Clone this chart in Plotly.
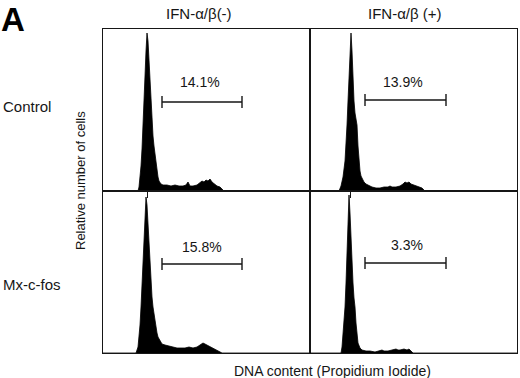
import plotly.graph_objects as go

# ---------------- data ----------------
# DNA content channel (0-207 across each panel), relative cell counts (0-162 full scale)
ctrl_neg_x = [0, 35, 36, 37, 38, 39, 40, 41, 42, 43, 44, 45, 46, 47, 48, 49, 50, 51, 52, 53, 54, 55, 56, 58, 60,
              64, 68, 72, 76, 80, 83, 85, 87, 90, 94, 97, 99, 101, 103, 105, 107, 109, 111, 114, 117, 119, 121, 207]
ctrl_neg_y = [0, 0, 4, 12, 25, 42, 62, 85, 115, 140, 158, 150, 128, 105, 84, 66, 55, 45, 36, 28, 20, 14, 10, 7, 6,
              6, 5, 6, 5, 5, 6, 9, 5, 5, 6, 8, 10, 9, 11, 10, 12, 9, 7, 5, 4, 2, 0, 0]

ctrl_pos_x = [0, 29, 31, 33, 35, 36, 37, 38, 39, 40, 41, 42, 43, 44, 45, 46, 47, 48, 49, 50, 51, 52, 54, 56, 58,
              62, 66, 70, 74, 78, 80, 82, 86, 90, 93, 95, 97, 99, 101, 104, 108, 112, 115, 207]
ctrl_pos_y = [0, 0, 5, 14, 30, 45, 66, 90, 118, 142, 158, 140, 112, 90, 78, 70, 66, 45, 30, 20, 15, 13, 9, 7, 6,
              4, 3, 3, 4, 4, 5, 4, 4, 5, 7, 9, 8, 9, 7, 6, 5, 3, 0, 0]

fos_neg_x = [0, 33, 35, 36, 37, 38, 39, 40, 41, 42, 43, 44, 45, 46, 47, 48, 49, 50, 51, 52, 53, 54, 55, 57, 59,
             62, 66, 70, 74, 78, 82, 86, 90, 94, 97, 99, 100, 102, 104, 107, 110, 113, 116, 119, 207]
fos_neg_y = [0, 0, 6, 15, 28, 46, 70, 95, 120, 142, 156, 148, 128, 108, 88, 70, 56, 46, 38, 30, 24, 20, 16, 12, 9,
             8, 7, 6, 5, 5, 5, 6, 5, 6, 8, 9, 10, 9, 8, 6, 5, 3, 2, 0, 0]

fos_pos_x = [0, 31, 32, 33, 34, 35, 36, 37, 38, 39, 40, 41, 42, 43, 44, 45, 46, 47, 48, 50, 52, 56, 60, 65, 70,
             72, 74, 78, 82, 86, 88, 90, 94, 97, 99, 101, 103, 207]
fos_pos_y = [0, 0, 6, 18, 34, 46, 70, 100, 130, 158, 140, 112, 90, 70, 55, 46, 30, 18, 10, 5, 3, 2, 2, 1, 2,
             3, 2, 2, 3, 4, 3, 3, 4, 3, 4, 2, 0, 0]

hist_x = [ctrl_neg_x, ctrl_pos_x, fos_neg_x, fos_pos_x]
hist_y = [ctrl_neg_y, ctrl_pos_y, fos_neg_y, fos_pos_y]

# gated region marker: start, end, drawing level, label
gate_lo = [59, 55, 59, 55]
gate_hi = [139, 136, 139, 136]
gate_level = [89, 91, 89, 90]
gate_label = ["14.1%", "13.9%", "15.8%", "3.3%"]
label_x = [97, 93, 99, 97]
label_y = [109, 109, 106, 108]

g1_marker = [44, 40]  # G1 channel marks under the top row

col_titles = ["IFN-α/β(-)", "IFN-α/β (+)"]
row_titles = ["Control", "Mx-c-fos"]

# ---------------- figure ----------------
W, H = 520, 378
FONT = "Liberation Sans, Arial, Helvetica, sans-serif"
INK = "#161616"

xl = [103 / W, 310 / W]
xr = [310 / W, 517 / W]
yt = [1 - 191 / H, 1 - 29 / H]
yb = [1 - 353 / H, 1 - 191 / H]
domains = [(xl, yt), (xr, yt), (xl, yb), (xr, yb)]

fig = go.Figure()
layout = dict(
    width=W, height=H, margin=dict(l=0, r=0, t=0, b=0),
    paper_bgcolor="white", plot_bgcolor="white", showlegend=False,
    font=dict(family=FONT, color=INK),
)

for i in range(4):
    xa = "x" if i == 0 else f"x{i+1}"
    ya = "y" if i == 0 else f"y{i+1}"
    fig.add_trace(go.Scatter(
        x=hist_x[i], y=hist_y[i], xaxis=xa, yaxis=ya, mode="lines",
        line=dict(color="black", width=0.8), fill="tozeroy", fillcolor="black",
        hoverinfo="skip"))
    mid = (gate_lo[i] + gate_hi[i]) / 2
    half = (gate_hi[i] - gate_lo[i]) / 2
    fig.add_trace(go.Scatter(
        x=[mid], y=[gate_level[i]], xaxis=xa, yaxis=ya, mode="markers",
        marker=dict(size=1, color="rgba(0,0,0,0)"),
        error_x=dict(type="data", array=[half], symmetric=True, color=INK,
                     thickness=1.4, width=6),
        hoverinfo="skip"))
    fig.add_annotation(x=label_x[i], y=label_y[i], xref=xa, yref=ya, text=gate_label[i],
                       xanchor="center", yanchor="middle",
                       showarrow=False, font=dict(size=14, color=INK, family=FONT))
    dx, dy = domains[i]
    xkey = "xaxis" if i == 0 else f"xaxis{i+1}"
    ykey = "yaxis" if i == 0 else f"yaxis{i+1}"
    xcfg = dict(domain=dx, range=[0, 207], anchor=ya, showgrid=False, zeroline=False,
                showline=True, mirror=True, linecolor=INK, linewidth=1,
                showticklabels=False, fixedrange=True)
    if i < 2:
        xcfg.update(tickvals=[g1_marker[i]], ticks="outside", ticklen=6, tickwidth=1,
                    tickcolor=INK)
    else:
        xcfg.update(ticks="")
    layout[xkey] = xcfg
    layout[ykey] = dict(domain=dy, range=[0, 162], anchor=xa, showgrid=False, zeroline=False,
                        showline=True, mirror=True, linecolor=INK, linewidth=1,
                        showticklabels=False, ticks="", fixedrange=True)

fig.update_layout(**layout)

def paper_note(px, py, text, size, anchor="center", yanchor="middle", angle=0, color=INK):
    fig.add_annotation(x=px / W, y=1 - py / H, xref="paper", yref="paper", text=text,
                       xanchor=anchor, yanchor=yanchor, textangle=angle, showarrow=False,
                       borderpad=0, font=dict(size=size, color=color, family=FONT))

# panel letter
paper_note(0, 0, "<b>A</b>", 33, anchor="left", yanchor="top", color="black")
# column titles
paper_note(199, 13, col_titles[0], 15)
paper_note(405, 13, col_titles[1], 15)
# row titles
paper_note(2, 107, row_titles[0], 15, anchor="left")
paper_note(2, 284, row_titles[1], 15, anchor="left")
# axis titles
paper_note(80, 181, "Relative number of cells", 13, angle=-90)
paper_note(332, 371, "DNA content (Propidium Iodide)", 14)

fig.write_html("out.html", config={"displayModeBar": False, "staticPlot": True},
               post_script="document.body.style.margin='0';document.body.style.overflow='hidden';")
